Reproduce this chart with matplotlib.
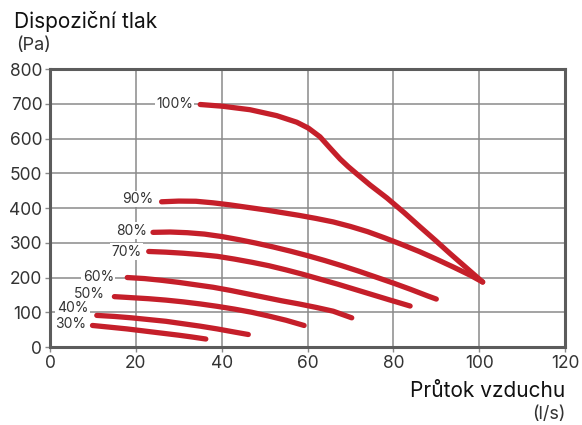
import matplotlib
matplotlib.use("Agg")
import matplotlib.pyplot as plt

plt.rcParams['font.family'] = ['Inter', 'DejaVu Sans']

# fan curves: airflow (l/s) vs available pressure (Pa)
labels = ["100%", "90%", "80%", "70%", "60%", "50%", "40%", "30%"]

x100 = [35, 40.2, 46.6, 52.8, 57.5, 60.2, 62.9, 65.3, 67.6, 69.5, 71.5, 74.6, 78.5, 82.5, 86.2, 89.7, 93.2, 97, 100.8]
y100 = [698, 693, 683, 666, 647, 630, 605, 572, 541, 519, 498, 466, 429, 387, 346, 308, 269, 228, 187]

x90 = [26, 30, 34, 38, 42, 46, 50, 54, 58, 62, 66, 70, 74, 78, 82, 86, 90, 94, 98, 100.8]
y90 = [418, 420, 419.5, 415, 409, 402, 395, 387, 379, 370, 360, 347, 332, 314, 295, 275, 253, 230, 206, 187]

x80 = [24, 28, 32, 36, 40, 44, 48, 52, 56, 60, 64, 68, 72, 76, 80, 84, 88, 90]
y80 = [330, 331, 329, 325, 318, 309, 299, 288, 276, 263, 249, 234, 218, 201, 184, 166, 147, 138]

x70 = [23, 27, 31, 35, 39, 43, 47, 51, 55, 59, 63, 67, 71, 75, 79, 83.9]
y70 = [275, 273, 270, 266, 261, 253, 244, 234, 222, 209, 195, 181, 166, 151, 136, 118]

x60 = [18, 22, 26, 30, 34, 38, 42, 46, 50, 54, 58, 62, 66, 70.3]
y60 = [200, 197, 192, 186, 179, 172, 163, 153, 143, 133, 124, 114, 103, 84]

x50 = [15, 19, 23, 27, 31, 35, 39, 43, 47, 51, 55, 59.2]
y50 = [145, 142, 139, 135, 130, 124, 117, 109, 100, 89, 77, 62]

x40 = [10.9, 15, 19, 23, 27, 31, 35, 39, 43, 46.2]
y40 = [91, 88, 84, 79, 74, 67, 60, 52, 43, 36]

x30 = [9.9, 14, 18, 22, 26, 30, 33, 36.3]
y30 = [62, 57, 52, 46, 40, 34, 29, 23]

# where each percentage label sits (right edge, centre)
label_x = [33.3, 24.0, 22.7, 21.4, 14.9, 12.7, 8.9, 8.4]
label_y = [700, 426, 335, 274, 202, 152, 112, 65]

xs = [x100, x90, x80, x70, x60, x50, x40, x30]
ys = [y100, y90, y80, y70, y60, y50, y40, y30]

red = "#c51f2a"
grid_c = "#8a8a8a"
frame_c = "#5c5c5c"
text_c = "#333333"

fig = plt.figure(figsize=(5.82, 4.25), dpi=100)
ax = fig.add_axes([0.0859, 0.1835, 0.885, 0.654])

for x, y in zip(xs, ys):
    ax.plot(x, y, color=red, lw=3.8, solid_capstyle="round", solid_joinstyle="round", zorder=4)

for lab, lx, ly in zip(labels, label_x, label_y):
    ax.text(lx, ly, lab, ha="right", va="center", fontsize=10, color=text_c, zorder=3,
            bbox=dict(facecolor="white", edgecolor="none", pad=1.0))

ax.set_xlim(0, 120)
ax.set_ylim(0, 800)
ax.set_xticks(range(0, 121, 20))
ax.set_yticks(range(0, 801, 100))
ax.grid(True, color=grid_c, lw=1.1, zorder=1)
ax.set_axisbelow(True)
for s in ax.spines.values():
    s.set_color(frame_c)
    s.set_linewidth(2.2)
ax.tick_params(direction="out", length=3.5, width=1, color=grid_c,
               labelsize=12.5, labelcolor=text_c, pad=2)

fig.text(0.024, 0.934, "Dispoziční tlak", fontsize=15, color="#111111", va="baseline")
fig.text(0.028, 0.882, "(Pa)", fontsize=13, color=text_c, va="baseline")
fig.text(0.971, 0.066, "Průtok vzduchu", fontsize=15, color="#111111", ha="right", va="baseline")
fig.text(0.971, 0.014, "(l/s)", fontsize=13, color=text_c, ha="right", va="baseline")

fig.savefig("out.png", dpi=100)
